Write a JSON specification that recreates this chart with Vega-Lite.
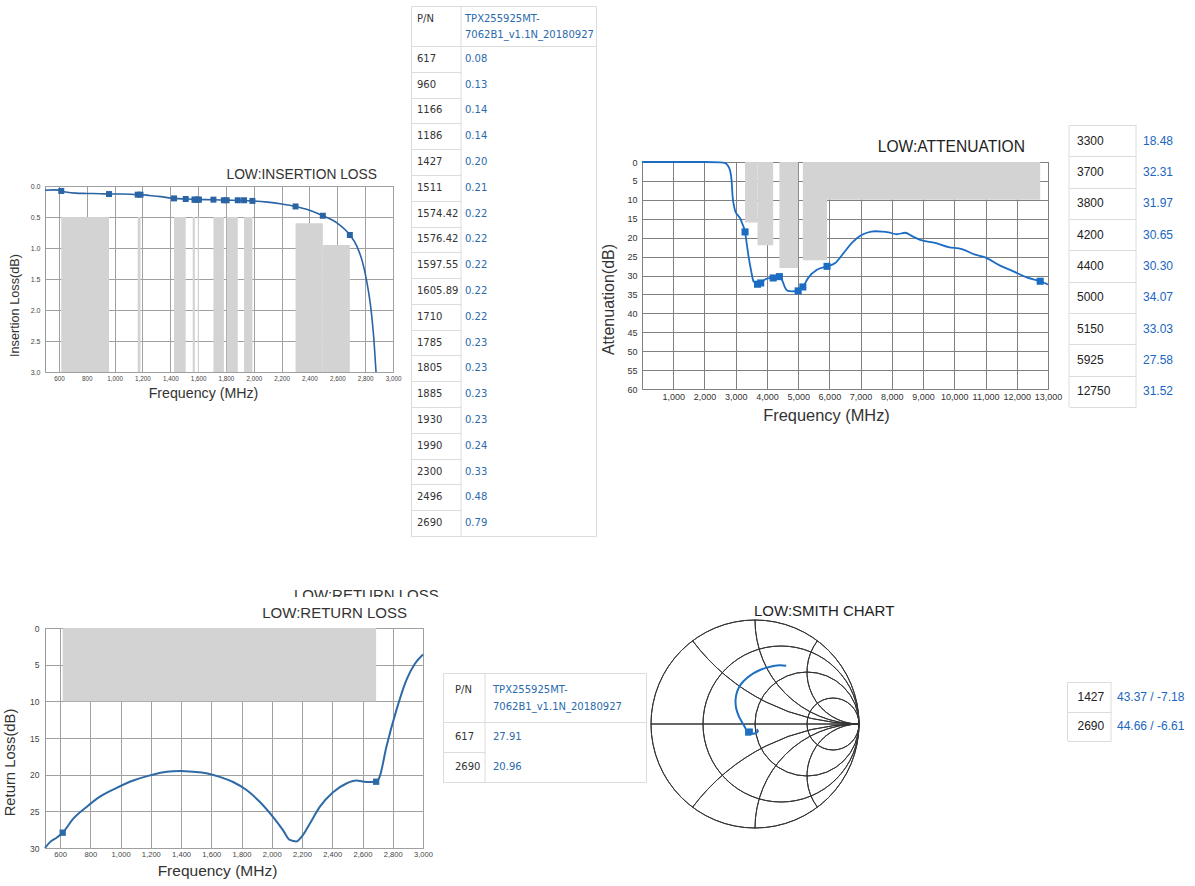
{
 "$schema": "https://vega.github.io/schema/vega-lite/v6.json",
 "background": "white",
 "padding": 0,
 "config": {
  "view": {"stroke": null},
  "concat": {"spacing": 0},
  "font": "Liberation Sans",
  "title": {"font": "Liberation Sans", "fontWeight": "normal", "color": "#333", "baseline": "middle", "frame": "group"},
  "axis": {"labelFont": "Liberation Sans", "titleFont": "Liberation Sans", "labelColor": "#444", "titleColor": "#333", "titleFontWeight": "normal", "labelFlush": false, "labelOverlap": false, "labelBound": false, "ticks": false, "tickSize": 0, "domain": false, "gridColor": "#a0a0a0", "gridWidth": 1, "gridOpacity": 1}
 },
 "datasets": {
  "il": [
   {"f": 617, "v": 0.08}, {"f": 960, "v": 0.13}, {"f": 1166, "v": 0.14}, {"f": 1186, "v": 0.14},
   {"f": 1427, "v": 0.20}, {"f": 1511, "v": 0.21}, {"f": 1574.42, "v": 0.22}, {"f": 1576.42, "v": 0.22},
   {"f": 1597.55, "v": 0.22}, {"f": 1605.89, "v": 0.22}, {"f": 1710, "v": 0.22}, {"f": 1785, "v": 0.23},
   {"f": 1805, "v": 0.23}, {"f": 1885, "v": 0.23}, {"f": 1930, "v": 0.23}, {"f": 1990, "v": 0.24},
   {"f": 2300, "v": 0.33}, {"f": 2496, "v": 0.48}, {"f": 2690, "v": 0.79}
  ],
  "att": [
   {"f": 3300, "v": 18.48}, {"f": 3700, "v": 32.31}, {"f": 3800, "v": 31.97}, {"f": 4200, "v": 30.65},
   {"f": 4400, "v": 30.30}, {"f": 5000, "v": 34.07}, {"f": 5150, "v": 33.03}, {"f": 5925, "v": 27.58},
   {"f": 12750, "v": 31.52}
  ],
  "rl": [{"f": 617, "v": 27.91}, {"f": 2690, "v": 20.96}],
  "sm": [
   {"f": 1427, "z": "43.37 / -7.18", "gr": -0.065, "gi": -0.082},
   {"f": 2690, "z": "44.66 / -6.61", "gr": -0.051, "gi": -0.073}
  ]
 },
 "bounds": "flush",
 "spacing": 0,
 "vconcat": [
  {"bounds": "flush", "spacing": 0, "hconcat": [
   {"width": 45, "height": 1, "data": {"values": []}, "mark": "point", "encoding": {}},
   {"bounds": "flush", "spacing": 0, "vconcat": [
    {"width": 1, "height": 186, "data": {"values": []}, "mark": "point", "encoding": {}},
    {
     "width": 348, "height": 186,
     "view": {"stroke": "#999"},
     "title": {"text": "LOW:INSERTION LOSS", "anchor": "end", "dx": -16, "offset": 0.7, "fontSize": 13.8, "color": "#333"},
     "layer": [
      {
       "data": {"values": [
        {"f1": 617, "f2": 960, "t": 0.5}, {"f1": 1166, "f2": 1186, "t": 0.5}, {"f1": 1427, "f2": 1511, "t": 0.5},
        {"f1": 1561, "f2": 1576.42, "t": 0.5}, {"f1": 1597.55, "f2": 1605.89, "t": 0.5}, {"f1": 1710, "f2": 1785, "t": 0.5},
        {"f1": 1805, "f2": 1885, "t": 0.5}, {"f1": 1930, "f2": 1990, "t": 0.5}, {"f1": 2300, "f2": 2496, "t": 0.6},
        {"f1": 2496, "f2": 2690, "t": 0.95}
       ]},
       "mark": {"type": "rect", "color": "#d3d3d3"},
       "encoding": {
        "x": {"field": "f1", "type": "quantitative", "scale": {"domain": [500, 3000], "nice": false, "zero": false},
         "axis": {"values": [600, 800, 1000, 1200, 1400, 1600, 1800, 2000, 2200, 2400, 2600, 2800, 3000], "tickCount": 100, "format": ",d", "grid": true, "labelFontSize": 6.3, "labelPadding": 3, "title": "Frequency (MHz)", "titleFontSize": 14.2, "titleX": 158, "titleY": 21, "titleBaseline": "middle", "titleAlign": "center"}},
        "x2": {"field": "f2"},
        "y": {"field": "t", "type": "quantitative", "scale": {"domain": [0, 3], "reverse": true, "nice": false, "zero": false},
         "axis": {"values": [0, 0.5, 1, 1.5, 2, 2.5, 3], "tickCount": 100, "format": ".1f", "grid": true, "labelFontSize": 7, "labelPadding": 5, "title": "Insertion Loss(dB)", "titleFontSize": 12.7, "titleX": -31, "titleY": 119, "titleBaseline": "middle", "titleAlign": "center", "titleAngle": -90}},
        "y2": {"datum": 3}
       }
      },
      {
       "data": {"values": [
        {"f": 500, "v": 0.068}, {"f": 560, "v": 0.062}, {"f": 600, "v": 0.066}, {"f": 617, "v": 0.08}, {"f": 660, "v": 0.102},
        {"f": 720, "v": 0.115}, {"f": 800, "v": 0.12}, {"f": 900, "v": 0.125}, {"f": 960, "v": 0.13}, {"f": 1060, "v": 0.13},
        {"f": 1120, "v": 0.132}, {"f": 1166, "v": 0.14}, {"f": 1186, "v": 0.14}, {"f": 1250, "v": 0.152}, {"f": 1330, "v": 0.172},
        {"f": 1427, "v": 0.20}, {"f": 1511, "v": 0.21}, {"f": 1600, "v": 0.218}, {"f": 1710, "v": 0.222}, {"f": 1800, "v": 0.228},
        {"f": 1900, "v": 0.233}, {"f": 1990, "v": 0.24}, {"f": 2100, "v": 0.26}, {"f": 2200, "v": 0.29}, {"f": 2300, "v": 0.33},
        {"f": 2400, "v": 0.39}, {"f": 2496, "v": 0.48}, {"f": 2600, "v": 0.60}, {"f": 2690, "v": 0.79}, {"f": 2740, "v": 0.97},
        {"f": 2780, "v": 1.22}, {"f": 2810, "v": 1.52}, {"f": 2840, "v": 1.95}, {"f": 2860, "v": 2.4}, {"f": 2878, "v": 3.0}
       ]},
       "mark": {"type": "line", "color": "#2a64a4", "strokeWidth": 1.6, "interpolate": "monotone", "clip": true},
       "encoding": {"x": {"field": "f", "type": "quantitative"}, "y": {"field": "v", "type": "quantitative"}}
      },
      {
       "data": {"name": "il"},
       "mark": {"type": "point", "shape": "square", "filled": true, "size": 36, "color": "#2a64a4", "opacity": 1},
       "encoding": {"x": {"field": "f", "type": "quantitative"}, "y": {"field": "v", "type": "quantitative"}}
      }
     ]
    }
   ]}
  ]},
  {"bounds": "flush", "spacing": 0, "hconcat": [
   {"width": 411, "height": 1, "data": {"values": []}, "mark": "point", "encoding": {}},
   {"bounds": "flush", "spacing": 0, "vconcat": [
    {"width": 1, "height": 6, "data": {"values": []}, "mark": "point", "encoding": {}},
    {
     "width": 185, "height": 40, "view": {"stroke": "#dcdcdc"},
     "data": {"values": [{"k": "P/N", "n": "TPX255925MT-\n7062B1_v1.1N_20180927"}]},
     "layer": [
      {"mark": {"type": "rule", "color": "#dcdcdc"}, "encoding": {"x": {"datum": 1, "type": "quantitative", "scale": {"domain": [0, 1], "range": [0, 50]}, "axis": null}}},
      {"mark": {"type": "text", "align": "left", "baseline": "middle", "dx": 6, "dy": -7, "font": "DejaVu Sans", "fontSize": 10, "color": "#333"},
       "encoding": {"x": {"datum": 0, "type": "quantitative"}, "text": {"field": "k", "type": "nominal"}}},
      {"mark": {"type": "text", "align": "left", "baseline": "middle", "dx": 4, "dy": -7, "lineBreak": "\n", "lineHeight": 16, "font": "DejaVu Sans", "fontSize": 10, "color": "#2a6aad"},
       "encoding": {"x": {"datum": 1, "type": "quantitative"}, "text": {"field": "n", "type": "nominal"}}}
     ]
    },
    {
     "width": 185, "height": 490, "view": {"stroke": "#dcdcdc"},
     "layer": [
      {"data": {"values": [{}]}, "mark": {"type": "rule", "color": "#dcdcdc"}, "encoding": {"x": {"datum": 1, "type": "quantitative", "scale": {"domain": [0, 1], "range": [0, 50]}, "axis": null}}},
      {"data": {"name": "il"},
       "mark": {"type": "text", "align": "left", "baseline": "middle", "dx": 6, "font": "DejaVu Sans", "fontSize": 10, "color": "#333"},
       "encoding": {
        "x": {"datum": 0, "type": "quantitative"},
        "y": {"field": "f", "type": "nominal", "sort": null, "scale": {"type": "band", "paddingInner": 0, "paddingOuter": 0},
         "axis": {"grid": true, "tickBand": "extent", "labels": false, "ticks": false, "domain": false, "title": null, "gridColor": "#dcdcdc"}},
        "text": {"field": "f", "type": "nominal"}
       }},
      {"data": {"name": "il"},
       "mark": {"type": "text", "align": "left", "baseline": "middle", "dx": 4, "font": "DejaVu Sans", "fontSize": 10, "color": "#2a6aad"},
       "encoding": {
        "x": {"datum": 1, "type": "quantitative"},
        "y": {"field": "f", "type": "nominal", "sort": null},
        "text": {"field": "v", "type": "quantitative", "format": ".2f"}
       }}
     ]
    }
   ]}
  ]},
  {"bounds": "flush", "spacing": 0, "hconcat": [
   {"width": 642, "height": 1, "data": {"values": []}, "mark": "point", "encoding": {}},
   {"bounds": "flush", "spacing": 0, "vconcat": [
    {"width": 1, "height": 162, "data": {"values": []}, "mark": "point", "encoding": {}},
    {
     "width": 406, "height": 227,
     "view": {"stroke": "#808080"},
     "title": {"text": "LOW:ATTENUATION", "anchor": "end", "dx": -23, "offset": 2.8, "fontSize": 15.6, "color": "#222"},
     "layer": [
      {
       "data": {"values": [
        {"f1": 3300, "f2": 3700, "d": 16}, {"f1": 3700, "f2": 4200, "d": 22}, {"f1": 4400, "f2": 5000, "d": 28},
        {"f1": 5150, "f2": 5925, "d": 26}, {"f1": 5925, "f2": 12750, "d": 10}
       ]},
       "mark": {"type": "rect", "color": "#d3d3d3"},
       "encoding": {
        "x": {"field": "f1", "type": "quantitative", "scale": {"domain": [0, 13000], "nice": false, "zero": false},
         "axis": {"values": [1000, 2000, 3000, 4000, 5000, 6000, 7000, 8000, 9000, 10000, 11000, 12000, 13000], "tickCount": 100, "format": ",d", "grid": true, "gridColor": "#808080", "labelFontSize": 9, "labelColor": "#333", "labelPadding": 3.5, "title": "Frequency (MHz)", "titleFontSize": 16.4, "titleX": 184, "titleY": 26, "titleBaseline": "middle", "titleAlign": "center"}},
        "x2": {"field": "f2"},
        "y": {"field": "d", "type": "quantitative", "scale": {"domain": [0, 60], "reverse": true, "nice": false, "zero": false},
         "axis": {"values": [0, 5, 10, 15, 20, 25, 30, 35, 40, 45, 50, 55, 60], "tickCount": 100, "format": "d", "grid": true, "gridColor": "#808080", "labelFontSize": 9, "labelColor": "#333", "labelPadding": 5, "title": "Attenuation(dB)", "titleFontSize": 16, "titleX": -34, "titleY": 137, "titleBaseline": "middle", "titleAlign": "center", "titleAngle": -90}},
        "y2": {"datum": 0}
       }
      },
      {
       "data": {"values": [
        {"f": 0, "v": 0}, {"f": 1000, "v": 0}, {"f": 2000, "v": 0}, {"f": 2500, "v": 0.1}, {"f": 2667, "v": 0.3},
        {"f": 2750, "v": 1.0}, {"f": 2827, "v": 2.5}, {"f": 2870, "v": 5}, {"f": 2900, "v": 9}, {"f": 2950, "v": 11.8},
        {"f": 2990, "v": 13.1}, {"f": 3080, "v": 14.2}, {"f": 3150, "v": 15}, {"f": 3220, "v": 16.5}, {"f": 3300, "v": 18.48},
        {"f": 3360, "v": 22}, {"f": 3413, "v": 25}, {"f": 3500, "v": 29}, {"f": 3573, "v": 31.6}, {"f": 3700, "v": 32.31},
        {"f": 3800, "v": 31.97}, {"f": 3900, "v": 31.3}, {"f": 4000, "v": 30.8}, {"f": 4200, "v": 30.65}, {"f": 4400, "v": 30.3},
        {"f": 4500, "v": 31.5}, {"f": 4580, "v": 33.2}, {"f": 4650, "v": 34}, {"f": 4800, "v": 34.2}, {"f": 5000, "v": 34.07},
        {"f": 5150, "v": 33.03}, {"f": 5333, "v": 30.5}, {"f": 5600, "v": 28.5}, {"f": 5925, "v": 27.58}, {"f": 6187, "v": 26.7},
        {"f": 6453, "v": 24.1}, {"f": 6720, "v": 21.4}, {"f": 6987, "v": 19.5}, {"f": 7200, "v": 18.7}, {"f": 7467, "v": 18.3},
        {"f": 7700, "v": 18.4}, {"f": 7893, "v": 18.6}, {"f": 8160, "v": 19.1}, {"f": 8427, "v": 18.7}, {"f": 8650, "v": 19.6},
        {"f": 8907, "v": 20.6}, {"f": 9387, "v": 21.4}, {"f": 9813, "v": 22.5}, {"f": 10240, "v": 23}, {"f": 10667, "v": 24.5},
        {"f": 10987, "v": 25.2}, {"f": 11467, "v": 27.4}, {"f": 11893, "v": 28.9}, {"f": 12320, "v": 30.5}, {"f": 12750, "v": 31.52},
        {"f": 13000, "v": 32.4}
       ]},
       "mark": {"type": "line", "color": "#1c6cc4", "strokeWidth": 1.8, "interpolate": "monotone"},
       "encoding": {"x": {"field": "f", "type": "quantitative"}, "y": {"field": "v", "type": "quantitative"}}
      },
      {
       "data": {"name": "att"},
       "mark": {"type": "point", "shape": "square", "filled": true, "size": 50, "color": "#1c6cc4", "opacity": 1},
       "encoding": {"x": {"field": "f", "type": "quantitative"}, "y": {"field": "v", "type": "quantitative"}}
      }
     ]
    }
   ]}
  ]},
  {"bounds": "flush", "spacing": 0, "hconcat": [
   {"width": 1068, "height": 1, "data": {"values": []}, "mark": "point", "encoding": {}},
   {"bounds": "flush", "spacing": 0, "vconcat": [
    {"width": 1, "height": 125, "data": {"values": []}, "mark": "point", "encoding": {}},
    {
     "width": 126, "height": 282,
     "layer": [
      {"data": {"values": [{"c": 0}, {"c": 1}]}, "mark": {"type": "rule", "color": "#dcdcdc"},
       "encoding": {"x": {"field": "c", "type": "quantitative", "scale": {"domain": [0, 1], "range": [1, 68]}, "axis": null}}},
      {"data": {"name": "att"},
       "mark": {"type": "text", "align": "left", "baseline": "middle", "dx": 8, "font": "Liberation Sans", "fontSize": 12, "color": "#222"},
       "encoding": {
        "x": {"datum": 0, "type": "quantitative"},
        "y": {"field": "f", "type": "nominal", "sort": null, "scale": {"type": "band", "paddingInner": 0, "paddingOuter": 0},
         "axis": {"grid": true, "tickBand": "extent", "labels": false, "ticks": false, "domain": false, "title": null, "gridColor": "#dcdcdc"}},
        "text": {"field": "f", "type": "nominal"}
       }},
      {"data": {"name": "att"},
       "mark": {"type": "text", "align": "left", "baseline": "middle", "dx": 7, "font": "Liberation Sans", "fontSize": 12, "color": "#1a66c0"},
       "encoding": {
        "x": {"datum": 1, "type": "quantitative"},
        "y": {"field": "f", "type": "nominal", "sort": null},
        "text": {"field": "v", "type": "quantitative", "format": ".2f"}
       }}
     ]
    }
   ]}
  ]},
  {"bounds": "flush", "spacing": 0, "hconcat": [
   {"width": 294, "height": 1, "data": {"values": []}, "mark": "point", "encoding": {}},
   {"bounds": "flush", "spacing": 0, "vconcat": [
    {"width": 1, "height": 580, "data": {"values": []}, "mark": "point", "encoding": {}},
    {
     "width": 160, "height": 17,
     "data": {"values": [{"t": "LOW:RETURN LOSS"}]},
     "mark": {"type": "text", "clip": true, "align": "left", "baseline": "middle", "dy": -2.5, "font": "Liberation Sans", "fontSize": 15, "color": "#333"},
     "encoding": {
      "x": {"datum": 0, "type": "quantitative", "scale": {"domain": [0, 1]}, "axis": null},
      "y": {"datum": 0, "type": "quantitative", "scale": {"domain": [0, 1]}, "axis": null},
      "text": {"field": "t", "type": "nominal"}
     }
    }
   ]}
  ]},
  {"bounds": "flush", "spacing": 0, "hconcat": [
   {"width": 45, "height": 1, "data": {"values": []}, "mark": "point", "encoding": {}},
   {"bounds": "flush", "spacing": 0, "vconcat": [
    {"width": 1, "height": 628, "data": {"values": []}, "mark": "point", "encoding": {}},
    {
     "width": 378, "height": 220,
     "view": {"stroke": "#999"},
     "title": {"text": "LOW:RETURN LOSS", "anchor": "end", "dx": -16, "offset": 3, "fontSize": 15, "color": "#333"},
     "layer": [
      {
       "data": {"values": [{"f1": 617, "f2": 2690, "t": 0}]},
       "mark": {"type": "rect", "color": "#d3d3d3"},
       "encoding": {
        "x": {"field": "f1", "type": "quantitative", "scale": {"domain": [500, 3000], "nice": false, "zero": false},
         "axis": {"values": [600, 800, 1000, 1200, 1400, 1600, 1800, 2000, 2200, 2400, 2600, 2800, 3000], "tickCount": 100, "format": ",d", "grid": true, "labelFontSize": 7.6, "labelPadding": 2, "title": "Frequency (MHz)", "titleFontSize": 15.5, "titleX": 172, "titleY": 22, "titleBaseline": "middle", "titleAlign": "center"}},
        "x2": {"field": "f2"},
        "y": {"field": "t", "type": "quantitative", "scale": {"domain": [0, 30], "reverse": true, "nice": false, "zero": false},
         "axis": {"values": [0, 5, 10, 15, 20, 25, 30], "tickCount": 100, "format": "d", "grid": true, "labelFontSize": 8.5, "labelPadding": 6, "title": "Return Loss(dB)", "titleFontSize": 14.8, "titleX": -35, "titleY": 134, "titleBaseline": "middle", "titleAlign": "center", "titleAngle": -90}},
        "y2": {"datum": 10}
       }
      },
      {
       "data": {"values": [
        {"f": 500, "v": 30}, {"f": 533, "v": 29.2}, {"f": 577, "v": 28.6}, {"f": 617, "v": 27.91}, {"f": 687, "v": 26},
        {"f": 775, "v": 24.4}, {"f": 863, "v": 23}, {"f": 974, "v": 21.8}, {"f": 1084, "v": 20.8}, {"f": 1194, "v": 20.1},
        {"f": 1304, "v": 19.6}, {"f": 1392, "v": 19.5}, {"f": 1480, "v": 19.6}, {"f": 1568, "v": 19.8}, {"f": 1656, "v": 20.3},
        {"f": 1744, "v": 21}, {"f": 1833, "v": 22.1}, {"f": 1920, "v": 23.7}, {"f": 2009, "v": 25.8}, {"f": 2075, "v": 27.6},
        {"f": 2119, "v": 28.9}, {"f": 2163, "v": 29.1}, {"f": 2196, "v": 28.5}, {"f": 2251, "v": 26.7}, {"f": 2317, "v": 24.4},
        {"f": 2405, "v": 22.4}, {"f": 2493, "v": 21.2}, {"f": 2559, "v": 20.8}, {"f": 2626, "v": 21.0}, {"f": 2690, "v": 20.96},
        {"f": 2713, "v": 20.3}, {"f": 2758, "v": 16.2}, {"f": 2824, "v": 11.2}, {"f": 2890, "v": 7.1}, {"f": 2945, "v": 4.9},
        {"f": 3000, "v": 3.6}
       ]},
       "mark": {"type": "line", "color": "#2e6aa6", "strokeWidth": 2, "interpolate": "monotone"},
       "encoding": {"x": {"field": "f", "type": "quantitative"}, "y": {"field": "v", "type": "quantitative"}}
      },
      {
       "data": {"name": "rl"},
       "mark": {"type": "point", "shape": "square", "filled": true, "size": 40, "color": "#2e6aa6", "opacity": 1},
       "encoding": {"x": {"field": "f", "type": "quantitative"}, "y": {"field": "v", "type": "quantitative"}}
      }
     ]
    }
   ]}
  ]},
  {"bounds": "flush", "spacing": 0, "hconcat": [
   {"width": 443, "height": 1, "data": {"values": []}, "mark": "point", "encoding": {}},
   {"bounds": "flush", "spacing": 0, "vconcat": [
    {"width": 1, "height": 673, "data": {"values": []}, "mark": "point", "encoding": {}},
    {
     "width": 203, "height": 49, "view": {"stroke": "#dcdcdc"},
     "data": {"values": [{"k": "P/N", "n": "TPX255925MT-\n7062B1_v1.1N_20180927"}]},
     "layer": [
      {"mark": {"type": "rule", "color": "#dcdcdc"}, "encoding": {"x": {"datum": 1, "type": "quantitative", "scale": {"domain": [0, 1], "range": [0, 42]}, "axis": null}}},
      {"mark": {"type": "text", "align": "left", "baseline": "middle", "dx": 12, "dy": -7.5, "font": "DejaVu Sans", "fontSize": 10, "color": "#333"},
       "encoding": {"x": {"datum": 0, "type": "quantitative"}, "text": {"field": "k", "type": "nominal"}}},
      {"mark": {"type": "text", "align": "left", "baseline": "middle", "dx": 8, "dy": -7.5, "lineBreak": "\n", "lineHeight": 17, "font": "DejaVu Sans", "fontSize": 10, "color": "#2a6aad"},
       "encoding": {"x": {"datum": 1, "type": "quantitative"}, "text": {"field": "n", "type": "nominal"}}}
     ]
    },
    {
     "width": 203, "height": 60, "view": {"stroke": "#dcdcdc"},
     "layer": [
      {"data": {"values": [{}]}, "mark": {"type": "rule", "color": "#dcdcdc"}, "encoding": {"x": {"datum": 1, "type": "quantitative", "scale": {"domain": [0, 1], "range": [0, 42]}, "axis": null}}},
      {"data": {"name": "rl"},
       "mark": {"type": "text", "align": "left", "baseline": "middle", "dx": 12, "font": "DejaVu Sans", "fontSize": 10, "color": "#333"},
       "encoding": {
        "x": {"datum": 0, "type": "quantitative"},
        "y": {"field": "f", "type": "nominal", "sort": null, "scale": {"type": "band", "paddingInner": 0, "paddingOuter": 0},
         "axis": {"grid": true, "tickBand": "extent", "labels": false, "ticks": false, "domain": false, "title": null, "gridColor": "#dcdcdc"}},
        "text": {"field": "f", "type": "nominal"}
       }},
      {"data": {"name": "rl"},
       "mark": {"type": "text", "align": "left", "baseline": "middle", "dx": 8, "font": "DejaVu Sans", "fontSize": 10, "color": "#2a6aad"},
       "encoding": {
        "x": {"datum": 1, "type": "quantitative"},
        "y": {"field": "f", "type": "nominal", "sort": null},
        "text": {"field": "v", "type": "quantitative", "format": ".2f"}
       }}
     ]
    }
   ]}
  ]},
  {"bounds": "flush", "spacing": 0, "hconcat": [
   {"width": 651, "height": 1, "data": {"values": []}, "mark": "point", "encoding": {}},
   {"bounds": "flush", "spacing": 0, "vconcat": [
    {"width": 1, "height": 620, "data": {"values": []}, "mark": "point", "encoding": {}},
    {
     "width": 208, "height": 208,
     "title": {"text": "LOW:SMITH CHART", "anchor": "start", "dx": 103, "offset": -1, "fontSize": 15, "color": "#222"},
     "layer": [
      {
       "data": {"values": [
        {"cx": 0, "cy": 0, "rad": 1, "t0": 0, "t1": 360},
        {"cx": 0.25, "cy": 0, "rad": 0.75, "t0": 0, "t1": 360},
        {"cx": 0.5, "cy": 0, "rad": 0.5, "t0": 0, "t1": 360},
        {"cx": 0.75, "cy": 0, "rad": 0.25, "t0": 0, "t1": 360},
        {"cx": 1, "cy": 2, "rad": 2, "t0": 180, "t1": 233.13},
        {"cx": 1, "cy": 1, "rad": 1, "t0": 180, "t1": 270},
        {"cx": 1, "cy": 0.5, "rad": 0.5, "t0": 180, "t1": 306.87},
        {"cx": 1, "cy": -2, "rad": 2, "t0": 306.87, "t1": 360},
        {"cx": 1, "cy": -1, "rad": 1, "t0": 270, "t1": 360},
        {"cx": 1, "cy": -0.5, "rad": 0.5, "t0": 233.13, "t1": 360}
       ]},
       "mark": {"type": "arc", "filled": false, "stroke": "#333", "strokeWidth": 1},
       "encoding": {
        "x": {"field": "cx", "type": "quantitative", "scale": {"domain": [-1, 1], "nice": false, "zero": false}, "axis": null},
        "y": {"field": "cy", "type": "quantitative", "scale": {"domain": [-1, 1], "nice": false, "zero": false}, "axis": null},
        "radius": {"field": "rad", "type": "quantitative", "scale": {"type": "linear", "domain": [0, 1], "range": [0, 104], "zero": true}},
        "radius2": {"field": "rad"},
        "theta": {"field": "t0", "type": "quantitative", "stack": null, "scale": {"domain": [0, 360], "range": [0, 6.283185307179586]}},
        "theta2": {"field": "t1"}
       }
      },
      {
       "data": {"values": [{}]},
       "mark": {"type": "rule", "color": "#333", "strokeWidth": 1.5},
       "encoding": {"x": {"datum": -1, "type": "quantitative"}, "x2": {"datum": 1}, "y": {"datum": 0, "type": "quantitative"}}
      },
      {
       "data": {"values": [
        {"i": 0, "gr": 0.015, "gi": -0.05}, {"i": 1, "gr": 0.028, "gi": -0.068}, {"i": 2, "gr": 0.005, "gi": -0.088},
        {"i": 3, "gr": -0.035, "gi": -0.092}, {"i": 4, "gr": -0.065, "gi": -0.082}, {"i": 5, "gr": -0.085, "gi": -0.055},
        {"i": 6, "gr": -0.103, "gi": -0.02}, {"i": 7, "gr": -0.126, "gi": 0.019}, {"i": 8, "gr": -0.158, "gi": 0.081},
        {"i": 9, "gr": -0.181, "gi": 0.152}, {"i": 10, "gr": -0.187, "gi": 0.232}, {"i": 11, "gr": -0.171, "gi": 0.313},
        {"i": 12, "gr": -0.135, "gi": 0.384}, {"i": 13, "gr": -0.08, "gi": 0.44}, {"i": 14, "gr": -0.016, "gi": 0.487},
        {"i": 15, "gr": 0.048, "gi": 0.519}, {"i": 16, "gr": 0.113, "gi": 0.542}, {"i": 17, "gr": 0.177, "gi": 0.558},
        {"i": 18, "gr": 0.24, "gi": 0.565}, {"i": 19, "gr": 0.30, "gi": 0.56}
       ]},
       "mark": {"type": "line", "color": "#1f6fc0", "strokeWidth": 2, "interpolate": "catmull-rom"},
       "encoding": {"x": {"field": "gr", "type": "quantitative"}, "y": {"field": "gi", "type": "quantitative"}, "order": {"field": "i", "type": "quantitative"}}
      },
      {
       "data": {"name": "sm"},
       "mark": {"type": "point", "shape": "square", "filled": true, "size": 40, "color": "#1f6fc0", "opacity": 1},
       "encoding": {"x": {"field": "gr", "type": "quantitative"}, "y": {"field": "gi", "type": "quantitative"}}
      }
     ]
    }
   ]}
  ]},
  {"bounds": "flush", "spacing": 0, "hconcat": [
   {"width": 1067, "height": 1, "data": {"values": []}, "mark": "point", "encoding": {}},
   {"bounds": "flush", "spacing": 0, "vconcat": [
    {"width": 1, "height": 682, "data": {"values": []}, "mark": "point", "encoding": {}},
    {
     "width": 127, "height": 59,
     "layer": [
      {"data": {"values": [{"c": 0}, {"c": 1}]}, "mark": {"type": "rule", "color": "#dcdcdc"},
       "encoding": {"x": {"field": "c", "type": "quantitative", "scale": {"domain": [0, 1], "range": [0.5, 44]}, "axis": null}}},
      {"data": {"name": "sm"},
       "mark": {"type": "text", "align": "left", "baseline": "middle", "dx": 10, "font": "Liberation Sans", "fontSize": 12, "color": "#222"},
       "encoding": {
        "x": {"datum": 0, "type": "quantitative"},
        "y": {"field": "f", "type": "nominal", "sort": null, "scale": {"type": "band", "paddingInner": 0, "paddingOuter": 0},
         "axis": {"grid": true, "tickBand": "extent", "labels": false, "ticks": false, "domain": false, "title": null, "gridColor": "#dcdcdc"}},
        "text": {"field": "f", "type": "nominal"}
       }},
      {"data": {"name": "sm"},
       "mark": {"type": "text", "align": "left", "baseline": "middle", "dx": 6, "font": "Liberation Sans", "fontSize": 12, "color": "#1a66c0"},
       "encoding": {
        "x": {"datum": 1, "type": "quantitative"},
        "y": {"field": "f", "type": "nominal", "sort": null},
        "text": {"field": "z", "type": "nominal"}
       }}
     ]
    }
   ]}
  ]}
 ]
}
